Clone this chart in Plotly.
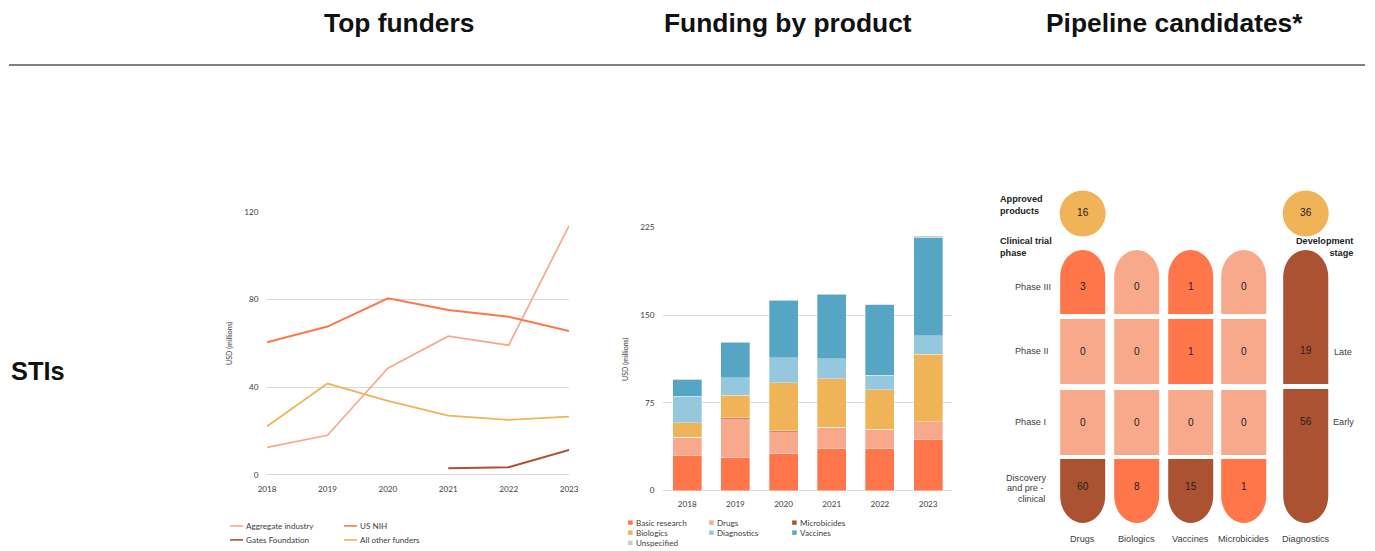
import plotly.graph_objects as go

W, H = 1375, 551

# ---- Top funders (USD millions) ----
years = [2018, 2019, 2020, 2021, 2022, 2023]
aggregate_industry = [12.6, 18.1, 48.7, 63.3, 59.2, 113.8]
us_nih = [60.5, 67.7, 80.6, 75.3, 72.2, 65.7]
gates_foundation = [None, None, None, 3.0, 3.5, 11.4]
all_other_funders = [22.2, 41.7, 33.8, 27.1, 25.1, 26.6]
funder_ticks = [0, 40, 80, 120]

# ---- Funding by product (USD millions) ----
year_labels = ["2018", "2019", "2020", "2021", "2022", "2023"]
basic_research = [29.9, 28.2, 31.3, 35.9, 35.6, 43.6]
drugs = [15.7, 33.3, 18.8, 18.2, 16.8, 15.1]
microbicides = [0, 0.7, 1.0, 0, 0, 0]
biologics = [12.5, 19.3, 41.2, 41.6, 33.9, 57.8]
diagnostics = [22.5, 14.8, 21.1, 16.8, 12.2, 15.7]
vaccines = [14.3, 30.3, 49.3, 55.2, 60.1, 84.0]
unspecified = [0.5, 0.4, 0.5, 0.6, 0.6, 1.7]
product_ticks = [0, 75, 150, 225]

# ---- Pipeline candidates ----
pipeline_products = ["Drugs", "Biologics", "Vaccines", "Microbicides"]
phase_3 = [3, 0, 1, 0]
phase_2 = [0, 0, 1, 0]
phase_1 = [0, 0, 0, 0]
discovery = [60, 8, 15, 1]
approved_products = 16
diag_approved = 36
diag_late = 19
diag_early = 56

C_ORANGE = "#FF764A"
C_SALMON = "#F8A98C"
C_BROWN = "#AA5231"
C_GOLD = "#F0B357"
C_LBLUE = "#95C8DD"
C_BLUE = "#56A5C5"
C_GREY = "#C9C9C9"

TXT = "#404040"
FONT = "Liberation Sans, Arial, sans-serif"
CHART_FONT = "Lato, Liberation Sans, sans-serif"

# Layout is specified in screen pixels; the page places the figure with a
# small inset and scale, so convert screen pixels to paper fractions.
OX, OY = 8.0, 5.0
SX, SY = 0.986, 0.982
FS = 1.015


def xf(px):
    return (px - OX) / SX / W


def yf(py):
    return 1 - (py - OY) / SY / H


fig = go.Figure()

# line chart
for name, vals, col, wd in [
    ("Aggregate industry", aggregate_industry, C_SALMON, 1.7),
    ("US NIH", us_nih, C_ORANGE, 2.0),
    ("Gates Foundation", gates_foundation, C_BROWN, 2.0),
    ("All other funders", all_other_funders, C_GOLD, 1.8),
]:
    fig.add_trace(go.Scatter(x=years, y=vals, mode="lines", name=name,
                             line=dict(color=col, width=wd),
                             showlegend=False, cliponaxis=False,
                             xaxis="x", yaxis="y", hoverinfo="skip"))

# stacked bars
bar_series = [
    ("Basic research", basic_research, C_ORANGE),
    ("Drugs", drugs, C_SALMON),
    ("Microbicides", microbicides, C_BROWN),
    ("Biologics", biologics, C_GOLD),
    ("Diagnostics", diagnostics, C_LBLUE),
    ("Vaccines", vaccines, C_BLUE),
    ("Unspecified", unspecified, C_GREY),
]
for name, vals, col in bar_series:
    fig.add_trace(go.Bar(x=year_labels, y=vals, name=name, marker_color=col,
                         marker_line=dict(color="rgba(255,255,255,0.55)", width=0.6),
                         showlegend=False, xaxis="x2", yaxis="y2",
                         hoverinfo="skip"))

# pixel overlay axis for the pipeline diagram and decorations
fig.add_trace(go.Scatter(x=[None], y=[None], xaxis="x3", yaxis="y3",
                         showlegend=False, hoverinfo="skip"))

shapes = []
annotations = []


def txt(x, y, s, size=9, color=TXT, bold=False, xanchor="center",
        align="center", family=FONT, angle=0):
    if bold:
        s = "<b>" + s + "</b>"
    annotations.append(dict(x=x, y=y, xref="x3", yref="y3", text=s,
                            showarrow=False, xanchor=xanchor, yanchor="middle",
                            align=align, textangle=angle,
                            font=dict(size=size * FS, color=color, family=family)))


# titles and rule
txt(397.5, 23, "Top funders", size=26, color="#111", bold=True)
txt(786.5, 23, "Funding by product", size=26, color="#111", bold=True)
txt(1173, 23, "Pipeline candidates*", size=26, color="#111", bold=True)
txt(8.3, 371, "STIs", size=25, color="#111", bold=True, xanchor="left")
shapes.append(dict(type="line", xref="x3", yref="y3", x0=3, x1=1370, y0=65,
                   y1=65, line=dict(color="#000", width=1.2)))

# axis titles
txt(229, 343, "USD (millions)", size=7, color=TXT, family=CHART_FONT, angle=-90)
txt(625, 359, "USD (millions)", size=7, color=TXT, family=CHART_FONT, angle=-90)

# line chart legend
line_legend = [("Aggregate industry", C_SALMON, 229, 526),
               ("US NIH", C_ORANGE, 343, 526),
               ("Gates Foundation", C_BROWN, 229, 540),
               ("All other funders", C_GOLD, 343, 540)]
for name, col, lx, ly in line_legend:
    shapes.append(dict(type="line", xref="x3", yref="y3", x0=lx, x1=lx + 13,
                       y0=ly, y1=ly, line=dict(color=col, width=1.6)))
    txt(lx + 14, ly, name, size=8, color=TXT, xanchor="left", family=CHART_FONT)

# bar chart legend
bar_legend_pos = [(627, 522.7), (708, 522.7), (791, 522.7),
                  (627, 532.7), (708, 532.7), (791, 532.7),
                  (627, 543)]
for (name, _, col), (lx, ly) in zip(bar_series, bar_legend_pos):
    shapes.append(dict(type="rect", xref="x3", yref="y3", x0=lx, x1=lx + 4.5,
                       y0=ly - 2.2, y1=ly + 2.2, fillcolor=col, line_width=0))
    txt(lx + 6, ly, name, size=8, color=TXT, xanchor="left", family=CHART_FONT)


# ---- pipeline diagram ----
def cell_color(v):
    if v == 0:
        return C_SALMON
    if v < 10:
        return C_ORANGE
    return C_BROWN


K = 0.5523


def cell_path(x0, x1, y0, y1, dome=None, dh=27):
    cx = (x0 + x1) / 2
    hw = (x1 - x0) / 2
    if dome == "top":
        ys = y0 + dh
        return (f"M{x0},{y1} L{x0},{ys} "
                f"C{x0},{ys - K * dh} {cx - K * hw},{y0} {cx},{y0} "
                f"C{cx + K * hw},{y0} {x1},{ys - K * dh} {x1},{ys} "
                f"L{x1},{y1} Z")
    if dome == "bottom":
        ye = y1 - dh
        return (f"M{x0},{y0} L{x0},{ye} "
                f"C{x0},{ye + K * dh} {cx - K * hw},{y1} {cx},{y1} "
                f"C{cx + K * hw},{y1} {x1},{ye + K * dh} {x1},{ye} "
                f"L{x1},{y0} Z")
    return f"M{x0},{y0} L{x1},{y0} L{x1},{y1} L{x0},{y1} Z"


col_centers = [1081.5, 1135.5, 1189.5, 1242.5]
diag_center = 1304.5
HALF = 22.5
row_spans = [(250, 314), (319, 384), (390, 455), (459, 523)]
row_text_y = [287, 351.5, 422.5, 487]
row_domes = ["top", None, None, "bottom"]
rows = [phase_3, phase_2, phase_1, discovery]

for ci, cx in enumerate(col_centers):
    for ri, vals in enumerate(rows):
        v = vals[ci]
        y0, y1 = row_spans[ri]
        shapes.append(dict(type="path", xref="x3", yref="y3",
                           path=cell_path(cx - HALF, cx + HALF, y0, y1, row_domes[ri]),
                           fillcolor=cell_color(v), line_width=0, layer="below"))
        txt(cx, row_text_y[ri], str(v), size=10, color="#222")
    txt(cx, 539, pipeline_products[ci], size=9, color=TXT)

# diagnostics column
shapes.append(dict(type="path", xref="x3", yref="y3",
                   path=cell_path(diag_center - HALF, diag_center + HALF, 250, 384, "top"),
                   fillcolor=cell_color(diag_late), line_width=0, layer="below"))
shapes.append(dict(type="path", xref="x3", yref="y3",
                   path=cell_path(diag_center - HALF, diag_center + HALF, 389, 523, "bottom"),
                   fillcolor=cell_color(diag_early), line_width=0, layer="below"))
txt(diag_center, 351, str(diag_late), size=10, color="#222")
txt(diag_center, 422, str(diag_early), size=10, color="#222")
txt(diag_center, 539, "Diagnostics", size=9, color=TXT)
txt(1331, 352, "Late", size=9, color=TXT, xanchor="left")
txt(1330, 422, "Early", size=9, color=TXT, xanchor="left")

# approved product circles
for cx, v in [(col_centers[0], approved_products), (diag_center, diag_approved)]:
    shapes.append(dict(type="circle", xref="x3", yref="y3", x0=cx - 23,
                       x1=cx + 23, y0=190.5, y1=236.5, fillcolor=C_GOLD,
                       line_width=0, layer="below"))
    txt(cx, 213, str(v), size=10, color="#222")

# row labels
txt(1012, 287, "Phase III", size=9, xanchor="left")
txt(1012, 351.5, "Phase II", size=9, xanchor="left")
txt(1012, 422.5, "Phase I", size=9, xanchor="left")
txt(1047, 478, "Discovery", size=9, xanchor="right")
txt(1045, 488.5, "and pre -", size=9, xanchor="right")
txt(1046, 499, "clinical", size=9, xanchor="right")

txt(997, 205.5, "Approved<br>products", size=9, color="#222", bold=True,
    xanchor="left", align="left")
txt(997, 247, "Clinical trial<br>phase", size=9, color="#222", bold=True,
    xanchor="left", align="left")
txt(1354, 247.5, "Development<br>stage", size=9, color="#222", bold=True,
    xanchor="right", align="right")

tick_font = dict(size=8 * FS, color=TXT, family=CHART_FONT)
GRID = "#D9D9D9"

fig.update_layout(
    width=W, height=H,
    margin=dict(l=0, r=0, t=0, b=0),
    paper_bgcolor="white", plot_bgcolor="rgba(0,0,0,0)",
    barmode="stack", bargap=0.4,
    showlegend=False,
    xaxis=dict(domain=[xf(266), xf(568)], range=[2018, 2023],
               tickvals=years, ticktext=[str(y) for y in years],
               showgrid=False, zeroline=False, showline=False,
               ticks="outside", ticklen=6, tickcolor="rgba(0,0,0,0)",
               tickfont=tick_font, anchor="y", fixedrange=True),
    yaxis=dict(domain=[yf(475), yf(212)], range=[0, 120], tickvals=funder_ticks,
               showgrid=True, gridcolor=GRID, gridwidth=1,
               zeroline=True, zerolinecolor=GRID, zerolinewidth=1,
               showline=False, ticks="outside", ticklen=6,
               tickcolor="rgba(0,0,0,0)", tickfont=tick_font, anchor="x",
               fixedrange=True),
    xaxis2=dict(domain=[xf(662), xf(951)], showgrid=False, zeroline=False,
                showline=False, ticks="outside", ticklen=6,
                tickcolor="rgba(0,0,0,0)", tickfont=tick_font, anchor="y2",
                fixedrange=True),
    yaxis2=dict(domain=[yf(490.7), yf(227.3)], range=[0, 225],
                tickvals=product_ticks, showgrid=True, gridcolor=GRID,
                gridwidth=1, zeroline=True, zerolinecolor=GRID,
                zerolinewidth=1, showline=False, ticks="outside", ticklen=6,
                tickcolor="rgba(0,0,0,0)", tickfont=tick_font, anchor="x2",
                fixedrange=True),
    xaxis3=dict(domain=[0, 1], range=[OX, OX + SX * W], visible=False,
                anchor="y3", fixedrange=True),
    yaxis3=dict(domain=[0, 1], range=[OY + SY * H, OY], visible=False,
                anchor="x3", fixedrange=True),
    shapes=shapes,
    annotations=annotations,
)

fig.write_html("out.html", config={"displayModeBar": False})
